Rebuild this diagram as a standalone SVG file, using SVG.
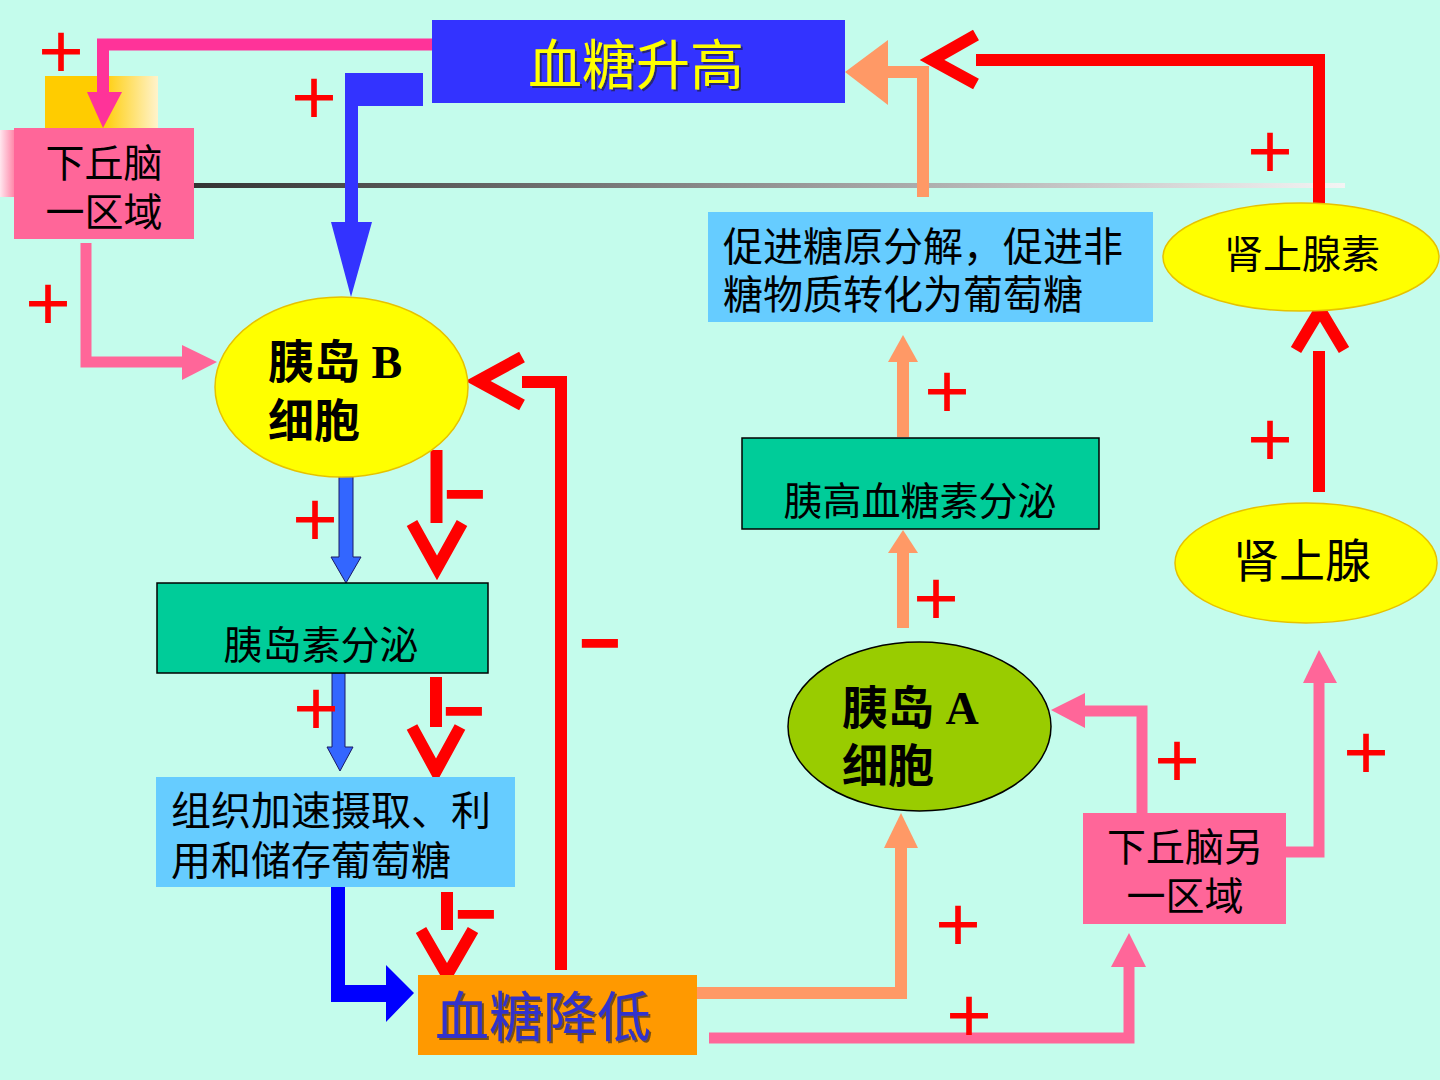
<svg xmlns="http://www.w3.org/2000/svg" width="1440" height="1080" viewBox="0 0 1440 1080">
<style>
  .cjk { font-family: "Noto Sans CJK SC", sans-serif; fill: #000; }
  .lat { font-family: "Liberation Serif", "Noto Sans CJK SC", serif; font-weight: bold; fill: #000; }
  .plus { font-family: "Liberation Sans", sans-serif; font-size: 78px; fill: #FF0000; text-anchor: middle; }
  .minus { font-family: "Liberation Sans", sans-serif; font-size: 66px; fill: #FF0000; stroke: #FF0000; stroke-width: 4; text-anchor: middle; }
  .red { fill: none; stroke: #FF0000; stroke-width: 12; }
  .org { fill: none; stroke: #FF9966; stroke-width: 12; }
  .pnk { fill: none; stroke: #FF6699; stroke-width: 11; }
  .orgh { fill: #FF9966; }
  .pnkh { fill: #FF6699; }
  .blu { fill: #3366FF; stroke: #1a1a66; stroke-width: 1; }
</style>
<defs>
  <linearGradient id="gline" gradientUnits="userSpaceOnUse" x1="194" y1="0" x2="1345" y2="0">
    <stop offset="0" stop-color="#333333"/>
    <stop offset="1" stop-color="#f4f4f4"/>
  </linearGradient>
  <linearGradient id="gyel" x1="0" y1="0" x2="1" y2="0">
    <stop offset="0" stop-color="#FFCC00"/>
    <stop offset="0.5" stop-color="#FFCC00"/>
    <stop offset="1" stop-color="#FFF3CC"/>
  </linearGradient>
  <linearGradient id="gpink" x1="0" y1="0" x2="1" y2="0">
    <stop offset="0" stop-color="#FFE6EE"/>
    <stop offset="1" stop-color="#FF88AA"/>
  </linearGradient>
  <filter id="shadow" x="-5%" y="-5%" width="110%" height="120%">
    <feDropShadow dx="2" dy="2" stdDeviation="0.5" flood-color="#222" flood-opacity="0.6"/>
  </filter>
</defs>

<rect width="1440" height="1080" fill="#C4FCEC"/>

<!-- template decorations -->
<rect x="45" y="76" width="113" height="52" fill="url(#gyel)"/>
<rect x="0" y="130" width="14" height="67" fill="url(#gpink)"/>
<rect x="194" y="183" width="1151" height="5" fill="url(#gline)"/>

<g id="connectors">
  <path d="M433,44.5 H103 V93" fill="none" stroke="#FF3399" stroke-width="12"/>
  <polygon points="87,92 122,92 103,128" fill="#FF3399"/>
  <polygon points="345,73 423,73 423,106 358,106 358,222 372,222 351,297 331,222 345,222" fill="#3333FF"/>
  <path class="pnk" d="M86,243 V362 H183"/>
  <polygon class="pnkh" points="182,345 182,380 217,362"/>
  <polygon class="blu" points="339,475 353,475 353,557 361,557 346,583 331,557 339,557"/>
  <polygon class="blu" points="332,673 345,673 345,747 353,747 340,771 327,747 332,747"/>
  <polygon points="331,887 345,887 345,985 386,985 386,965 414,993 386,1022 386,1002 331,1002" fill="#0000FF"/>
  <line class="red" x1="436.5" y1="450" x2="436.5" y2="523"/>
  <polyline class="red" points="412,523 437,568 462,523"/>
  <line class="red" x1="436" y1="677" x2="436" y2="727"/>
  <polyline class="red" points="412,727 436,771 460,727"/>
  <line class="red" x1="447" y1="892" x2="447" y2="930"/>
  <polyline class="red" points="421,930 447,975 473,930"/>
  <path class="red" d="M561,970 V382 H522"/>
  <polyline class="red" points="522,357 478,381 522,405"/>
  <path class="org" d="M697,993 H901 V848"/>
  <polygon class="orgh" points="884,848 918,848 901,813"/>
  <path class="org" stroke-width="14" d="M903,628 V552"/>
  <polygon class="orgh" points="888,553 918,553 903,530"/>
  <path class="org" stroke-width="14" d="M903,437 V361"/>
  <polygon class="orgh" points="888,362 918,362 903,335"/>
  <path class="org" stroke-width="13" d="M923,197 V72 H887"/>
  <polygon class="orgh" points="888,40 888,105 845,72"/>
  <path class="pnk" d="M709,1038 H1129 V966"/>
  <polygon class="pnkh" points="1111,967 1146,967 1129,933"/>
  <path class="pnk" stroke-width="12" d="M1142,813 V711 H1084"/>
  <polygon class="pnkh" points="1085,693 1085,728 1051,710"/>
  <path class="pnk" d="M1286,852 H1319 V682"/>
  <polygon class="pnkh" points="1303,683 1337,683 1319,650"/>
  <line class="red" x1="1319" y1="492" x2="1319" y2="351"/>
  <polyline class="red" points="1296,350 1320,310 1344,350"/>
  <path class="red" d="M1319,204 V60 H976"/>
  <polyline class="red" points="976,35 932,60 976,84"/>
</g>

<g id="signs">
  <text class="plus" x="61" y="78">+</text>
  <text class="plus" x="314" y="124">+</text>
  <text class="plus" x="48" y="330">+</text>
  <text class="plus" x="315" y="546">+</text>
  <text class="plus" x="316" y="735">+</text>
  <text class="plus" x="947" y="418">+</text>
  <text class="plus" x="936" y="625">+</text>
  <text class="plus" x="958" y="951">+</text>
  <text class="plus" x="969" y="1042">+</text>
  <text class="plus" x="1177" y="787">+</text>
  <text class="plus" x="1366" y="779">+</text>
  <text class="plus" x="1270" y="178">+</text>
  <text class="plus" x="1270" y="466">+</text>
  <text class="minus" x="465" y="516">−</text>
  <text class="minus" x="464" y="733">−</text>
  <text class="minus" x="476" y="936">−</text>
  <text class="minus" x="600" y="665">−</text>
</g>

<g id="node-hypothalamus1">
  <rect x="14" y="128" width="180" height="111" fill="#FF6699"/>
  <text class="cjk" font-size="39" text-anchor="middle"><tspan x="104" y="177">下丘脑</tspan><tspan x="104" y="226">一区域</tspan></text>
</g>

<g id="node-glucose-high">
  <rect x="432" y="20" width="413" height="83" fill="#3333FF"/>
  <text x="636" y="85" font-family="Noto Sans CJK SC, sans-serif" font-size="54" fill="#FFFF00" text-anchor="middle" filter="url(#shadow)">血糖升高</text>
</g>

<g id="node-promote">
  <rect x="708" y="212" width="445" height="110" fill="#66CCFF"/>
  <text class="cjk" font-size="40"><tspan x="723" y="261">促进糖原分解，促进非</tspan><tspan x="723" y="309">糖物质转化为葡萄糖</tspan></text>
</g>

<g id="node-adrenaline">
  <ellipse cx="1301" cy="257" rx="138" ry="54" fill="#FFFF00" stroke="#E6C200" stroke-width="1.5"/>
  <text class="cjk" x="1302" y="268" font-size="39" text-anchor="middle">肾上腺素</text>
</g>

<g id="node-beta-cell">
  <ellipse cx="341.5" cy="387" rx="126.5" ry="90" fill="#FFFF00" stroke="#E6C200" stroke-width="1.5"/>
  <text class="lat" font-size="46"><tspan x="268" y="378">胰岛 B</tspan><tspan x="268" y="437">细胞</tspan></text>
</g>

<g id="node-glucagon">
  <rect x="742" y="438" width="357" height="91" fill="#00CC99" stroke="#000" stroke-width="1.5"/>
  <text class="cjk" x="920" y="515" font-size="39" text-anchor="middle">胰高血糖素分泌</text>
</g>

<g id="node-adrenal">
  <ellipse cx="1306" cy="563" rx="131" ry="60" fill="#FFFF00" stroke="#E6C200" stroke-width="1.5"/>
  <text class="cjk" x="1302" y="577" font-size="46" text-anchor="middle">肾上腺</text>
</g>

<g id="node-insulin">
  <rect x="157" y="583" width="331" height="90" fill="#00CC99" stroke="#000" stroke-width="1.5"/>
  <text class="cjk" x="321" y="659" font-size="39" text-anchor="middle">胰岛素分泌</text>
</g>

<g id="node-alpha-cell">
  <ellipse cx="919.5" cy="726.5" rx="131.5" ry="84.5" fill="#99CC00" stroke="#000" stroke-width="1.5"/>
  <text class="lat" font-size="46"><tspan x="842" y="724">胰岛 A</tspan><tspan x="842" y="782">细胞</tspan></text>
</g>

<g id="node-tissue">
  <rect x="156" y="777" width="359" height="110" fill="#66CCFF"/>
  <text class="cjk" font-size="40"><tspan x="171" y="825">组织加速摄取、利</tspan><tspan x="171" y="875">用和储存葡萄糖</tspan></text>
</g>

<g id="node-hypothalamus2">
  <rect x="1083" y="813" width="203" height="111" fill="#FF6699"/>
  <text class="cjk" font-size="39" text-anchor="middle"><tspan x="1185" y="861">下丘脑另</tspan><tspan x="1185" y="910">一区域</tspan></text>
</g>

<g id="node-glucose-low">
  <rect x="418" y="975" width="279" height="80" fill="#FF9900"/>
  <text x="543" y="1037" font-family="Noto Sans CJK SC, sans-serif" font-size="54" fill="#3333CC" text-anchor="middle" filter="url(#shadow)">血糖降低</text>
</g>
</svg>
